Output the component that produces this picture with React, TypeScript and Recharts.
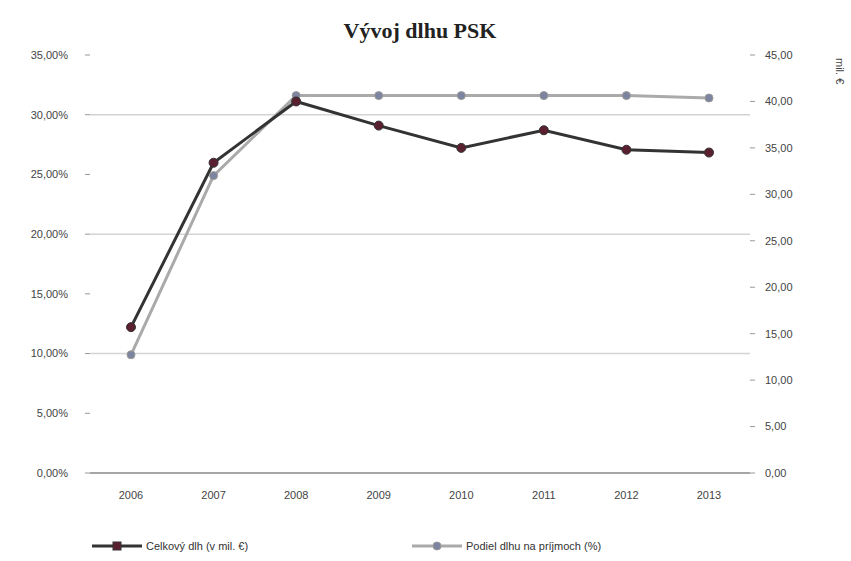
import { LineChart, Line, XAxis, YAxis, ReferenceLine } from 'recharts';

const years = ['2006', '2007', '2008', '2009', '2010', '2011', '2012', '2013'];
const debtMil = [15.7, 33.4, 40.0, 37.4, 35.0, 36.9, 34.8, 34.5];
const debtShare = [9.9, 24.9, 31.6, 31.6, 31.6, 31.6, 31.6, 31.4];
const leftTicks = [0, 5, 10, 15, 20, 25, 30, 35];
const rightTicks = [0, 5, 10, 15, 20, 25, 30, 35, 40, 45];
const gridValues = [10, 20, 30];
const seriesNames = ['Celkový dlh (v mil. €)', 'Podiel dlhu na príjmoch (%)'];

const data = years.map((y, i) => ({ year: y, debt: debtMil[i], share: debtShare[i] }));

const fmtPct = (v: number) => v.toFixed(2).replace('.', ',') + '%';
const fmtNum = (v: number) => v.toFixed(2).replace('.', ',');

const LegendBox = () => (
  <div style={{ position: 'absolute', top: 540, left: 92, display: 'flex', fontFamily: 'Liberation Sans, Arial, sans-serif', fontSize: 11, color: '#333' }}>
    <div style={{ display: 'flex', alignItems: 'center', width: 320 }}>
      <svg width={50} height={12}>
        <line x1={0} y1={6} x2={50} y2={6} stroke="#333" strokeWidth={3} />
        <rect x={21} y={2} width={8} height={8} fill="#5a2030" stroke="#333" />
      </svg>
      <span style={{ marginLeft: 4 }}>{seriesNames[0]}</span>
    </div>
    <div style={{ display: 'flex', alignItems: 'center' }}>
      <svg width={50} height={12}>
        <line x1={0} y1={6} x2={50} y2={6} stroke="#aaa" strokeWidth={3} />
        <circle cx={25} cy={6} r={4} fill="#7c84a0" stroke="#999" />
      </svg>
      <span style={{ marginLeft: 4 }}>{seriesNames[1]}</span>
    </div>
  </div>
);

export default function App() {
  const tickStyle = { fontSize: 11, fill: '#444', fontFamily: 'Liberation Sans, Arial, sans-serif' };
  return (
    <div style={{ position: 'absolute', left: 0, top: 0, width: 851, height: 561, background: '#fff' }}>
      <div style={{ position: 'absolute', top: 18, left: 0, width: 840, textAlign: 'center', fontFamily: 'Liberation Serif, Times New Roman, serif', fontWeight: 'bold', fontSize: 22, color: '#222' }}>
        Vývoj dlhu PSK
      </div>
      <div style={{ position: 'absolute', left: 832, top: 58, width: 20, height: 40, fontFamily: 'Liberation Sans, Arial, sans-serif', fontSize: 11, color: '#444' }}>
        <div style={{ transform: 'rotate(90deg)', transformOrigin: 'left top', position: 'absolute', left: 14, top: 0, whiteSpace: 'nowrap' }}>mil. €</div>
      </div>
      <LineChart width={851} height={561} data={data} margin={{ top: 55, right: 0, bottom: 56, left: 0 }}>
        {gridValues.map((v) => (
          <ReferenceLine key={v} yAxisId="left" y={v} stroke="#d4d4d4" strokeWidth={1.5} />
        ))}
        <XAxis dataKey="year" tick={tickStyle} tickLine={false} axisLine={{ stroke: '#888', strokeWidth: 1.5 }} tickMargin={12} height={32} padding={{ left: 41, right: 41 }} />
        <YAxis yAxisId="left" orientation="left" width={90} domain={[0, 35]} ticks={leftTicks} tickFormatter={fmtPct} tick={tickStyle} axisLine={false} tickLine={{ stroke: '#999' }} tickSize={5} tickMargin={17} />
        <YAxis yAxisId="right" orientation="right" width={101} domain={[0, 45]} ticks={rightTicks} tickFormatter={fmtNum} tick={tickStyle} axisLine={false} tickLine={{ stroke: '#999' }} tickSize={5} tickMargin={10} />
        <Line yAxisId="left" dataKey="share" stroke="#aaa" strokeWidth={3} isAnimationActive={false}
          dot={{ r: 4, fill: '#7c84a0', stroke: '#999', strokeWidth: 1 }} />
        <Line yAxisId="right" dataKey="debt" stroke="#333" strokeWidth={3} isAnimationActive={false}
          dot={{ r: 4.5, fill: '#5a2030', stroke: '#333', strokeWidth: 1 }} />
      </LineChart>
      <LegendBox />
    </div>
  );
}
